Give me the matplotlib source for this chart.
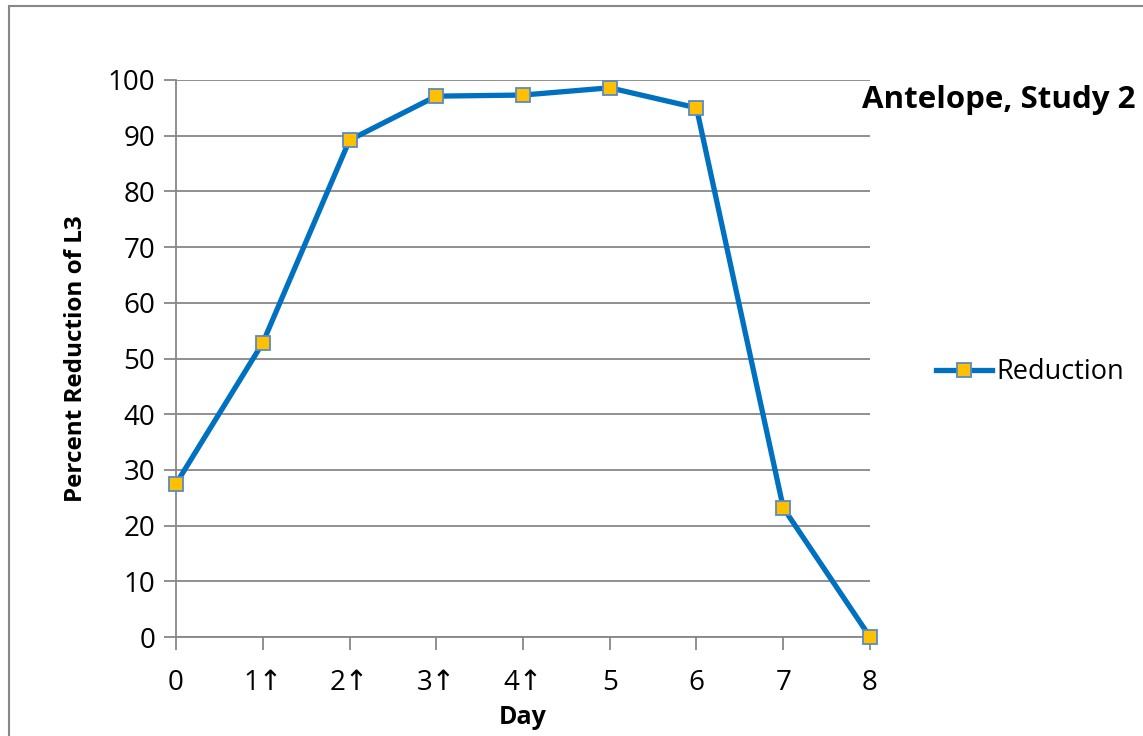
import matplotlib.pyplot as plt
from matplotlib.patches import Rectangle

# Percent reduction of L3 by day (arrows mark treatment days)
days = [0, 1, 2, 3, 4, 5, 6, 7, 8]
day_labels = ["0", "1↑", "2↑", "3↑", "4↑", "5", "6", "7", "8"]
reduction = [27.5, 52.8, 89.2, 97.1, 97.3, 98.6, 95.0, 23.2, 0.0]

FONT = ["Open Sans", "DejaVu Sans"]
plt.rcParams["font.family"] = FONT

fig = plt.figure(figsize=(11.43, 7.36), dpi=100)
ax = fig.add_axes([176 / 1143, 1 - 637 / 736, (870 - 176) / 1143, (637 - 80) / 736])

# chart border, runs off the right and bottom edges
fig.patches.append(Rectangle((9 / 1143, -0.1), 1.2, 1 - 6 / 736 + 0.1,
                             transform=fig.transFigure, fill=False,
                             edgecolor="#878787", linewidth=1.5))

ax.plot(days, reduction, color="#0070C0", linewidth=3.8,
        marker="s", markersize=9.5, markerfacecolor="#FFC000",
        markeredgecolor="#5A8AC6", markeredgewidth=1.3,
        label="Reduction", zorder=3, clip_on=False)

ax.set_xlim(0, 8)
ax.set_ylim(0, 100)
ax.set_yticks(range(0, 101, 10))
ax.set_xticks(days)
ax.set_xticklabels(day_labels)
ax.grid(axis="y", color="#878787", linewidth=1.3)
ax.set_axisbelow(True)

for side in ["top", "right"]:
    ax.spines[side].set_visible(False)
for side in ["left", "bottom"]:
    ax.spines[side].set_color("#878787")
    ax.spines[side].set_linewidth(1.3)

ax.tick_params(axis="both", color="#878787", length=9, width=1.3,
               labelsize=20, pad=6)
ax.tick_params(axis="x", pad=14)

ax.set_xlabel("Day", fontsize=18, fontweight="bold", labelpad=6)
ax.set_ylabel("Percent Reduction of L3", fontsize=17.5, fontweight="bold", labelpad=14)

fig.text(862 / 1143, 1 - 100 / 736, "Antelope, Study 2", fontsize=22.5,
         fontweight="bold", ha="left", va="center")

ax.legend(loc="center left", bbox_to_anchor=(922 / 1143, 1 - 372 / 736),
          bbox_transform=fig.transFigure, frameon=False, fontsize=19.5,
          handlelength=2.1, handletextpad=0.15, borderpad=0)

fig.savefig("out.png", dpi=100)
